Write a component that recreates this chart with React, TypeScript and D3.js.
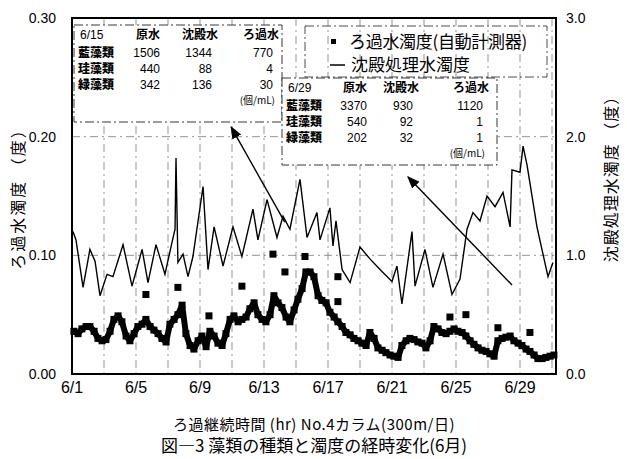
import React, { useEffect, useRef } from 'react';
import * as d3 from 'd3';

// ろ過水濁度 (left axis, 度) : [day of June, value]
const filteredTurbidity: [number, number][] = [
  [1.12, 0.036], [1.38, 0.034], [1.62, 0.038], [1.88, 0.040], [2.12, 0.040], [2.38, 0.036],
  [2.62, 0.030], [2.88, 0.028], [3.12, 0.029], [3.38, 0.036], [3.62, 0.046], [3.88, 0.049],
  [4.12, 0.044], [4.38, 0.032], [4.62, 0.028], [4.88, 0.034], [5.12, 0.040], [5.38, 0.042],
  [5.62, 0.046], [5.88, 0.040], [6.12, 0.037], [6.38, 0.034], [6.62, 0.030], [6.88, 0.027],
  [7.12, 0.042], [7.38, 0.046], [7.62, 0.050], [7.88, 0.058], [8.12, 0.034], [8.38, 0.024],
  [8.62, 0.021], [8.88, 0.028], [9.12, 0.032], [9.38, 0.023], [9.62, 0.036], [9.88, 0.032],
  [10.12, 0.026], [10.38, 0.024], [10.62, 0.034], [10.88, 0.046], [11.12, 0.049], [11.38, 0.044],
  [11.62, 0.046], [11.88, 0.048], [12.12, 0.055], [12.38, 0.060], [12.62, 0.050], [12.88, 0.046],
  [13.12, 0.044], [13.38, 0.050], [13.62, 0.066], [13.88, 0.060], [14.12, 0.056], [14.38, 0.048],
  [14.62, 0.044], [14.88, 0.054], [15.12, 0.063], [15.38, 0.072], [15.62, 0.086], [15.88, 0.086],
  [16.12, 0.082], [16.38, 0.066], [16.62, 0.062], [16.88, 0.060], [17.12, 0.052], [17.38, 0.048],
  [17.62, 0.044], [17.88, 0.040], [18.12, 0.035], [18.38, 0.033], [18.62, 0.030], [18.88, 0.028],
  [19.12, 0.026], [19.38, 0.024], [19.62, 0.035], [19.88, 0.030], [20.12, 0.022], [20.38, 0.020],
  [20.62, 0.018], [20.88, 0.016], [21.12, 0.015], [21.38, 0.014], [21.62, 0.024], [21.88, 0.028],
  [22.12, 0.030], [22.38, 0.029], [22.62, 0.027], [22.88, 0.026], [23.12, 0.022], [23.38, 0.028],
  [23.62, 0.040], [23.88, 0.038], [24.12, 0.035], [24.38, 0.034], [24.62, 0.036], [24.88, 0.038],
  [25.12, 0.036], [25.38, 0.035], [25.62, 0.032], [25.88, 0.028], [26.12, 0.025], [26.38, 0.022],
  [26.62, 0.020], [26.88, 0.019], [27.12, 0.017], [27.38, 0.015], [27.62, 0.028], [27.88, 0.030],
  [28.12, 0.031], [28.38, 0.032], [28.62, 0.028], [28.88, 0.026], [29.12, 0.024], [29.38, 0.021],
  [29.62, 0.019], [29.88, 0.016], [30.12, 0.013], [30.38, 0.013], [30.62, 0.014], [30.88, 0.015],
  [31.12, 0.016],
];

// isolated ろ過水濁度 readings away from the main band
const filteredOutliers: [number, number][] = [
  [5.62, 0.067], [7.62, 0.073], [9.56, 0.049], [11.62, 0.074], [13.56, 0.101], [14.31, 0.086],
  [15.56, 0.099], [17.62, 0.082], [17.62, 0.061], [24.62, 0.048], [25.62, 0.050], [27.62, 0.039],
  [29.62, 0.035],
];

// 沈殿処理水濁度 (right axis, 度)
const settledTurbidity: [number, number][] = [
  [1.06, 1.20], [1.25, 1.13], [1.69, 0.73], [2.12, 1.05], [2.44, 0.95], [2.75, 0.66],
  [3.19, 0.84], [3.56, 0.82], [4.19, 1.09], [4.75, 0.74], [5.38, 1.05], [5.75, 0.77],
  [6.25, 1.09], [6.81, 0.84], [7.25, 1.11], [7.44, 1.22], [7.5, 1.82], [7.62, 0.94],
  [7.94, 1.01], [8.25, 0.82], [8.56, 0.99], [9.19, 1.58], [9.5, 0.88], [9.88, 1.24],
  [10.44, 0.91], [11.06, 1.24], [11.62, 0.99], [12.31, 1.39], [12.62, 1.13], [13.19, 1.47],
  [13.81, 1.15], [14.19, 1.33], [14.62, 1.22], [15.25, 1.64], [15.69, 1.15], [16.31, 1.36],
  [16.5, 1.13], [17.12, 1.40], [17.31, 1.08], [17.5, 1.29], [17.88, 0.88], [18.38, 0.77],
  [19.0, 1.07], [19.62, 0.97], [20.25, 0.88], [21.0, 0.78], [21.31, 0.91], [21.62, 0.59],
  [22.25, 1.20], [22.44, 0.74], [23.06, 1.05], [23.56, 0.73], [24.19, 1.01], [24.75, 0.67],
  [25.25, 0.80], [25.69, 1.22], [26.06, 1.36], [26.5, 1.29], [26.94, 1.50], [27.44, 1.41],
  [27.94, 1.53], [28.38, 1.24], [28.5, 1.72], [29.0, 1.70], [29.19, 1.92], [29.44, 1.76],
  [29.62, 1.61], [30.06, 1.24], [30.75, 0.82], [31.06, 0.94],
];

const xTickDays = [1, 5, 9, 13, 17, 21, 25, 29];
const gridDays = [3, 5, 7, 9, 11, 13, 15, 17, 19, 21, 23, 25, 27, 29, 31];
const leftTicks = [0, 0.1, 0.2, 0.3];
const rightTicks = [0, 1, 2, 3];

const algaeNames = ['藍藻類', '珪藻類', '緑藻類'];
const waterTypes = ['原水', '沈殿水', 'ろ過水'];
const counts0615 = [[1506, 1344, 770], [440, 88, 4], [342, 136, 30]];
const counts0629 = [[3370, 930, 1120], [540, 92, 1], [202, 32, 1]];

const legendLabels = ['ろ過水濁度(自動計測器)', '沈殿処理水濁度'];

const JP = '"Noto Sans CJK JP", "Noto Sans", sans-serif';
const NUM = '"Liberation Sans Narrow", "Liberation Sans", Arial, sans-serif';

const App: React.FC = () => {
  const svgRef = useRef<SVGSVGElement>(null);

  useEffect(() => {
    const svg = d3.select(svgRef.current);
    svg.selectAll('*').remove();

    const left = 72, right = 556, top = 18, bottom = 374;
    const x = d3.scaleLinear().domain([1, 31.25]).range([left, right]);
    const yL = d3.scaleLinear().domain([0, 0.3]).range([bottom, top]);
    const yR = d3.scaleLinear().domain([0, 3]).range([bottom, top]);

    svg.append('rect').attr('width', 627).attr('height', 459).attr('fill', '#fff');

    // grid
    const grid = svg.append('g').attr('stroke', '#666').attr('stroke-width', 0.7)
      .attr('stroke-dasharray', '8 4 2 4');
    grid.selectAll('.gv').data(gridDays).enter().append('line')
      .attr('x1', d => x(d)).attr('x2', d => x(d)).attr('y1', top).attr('y2', bottom);
    grid.selectAll('.gh').data([0.1, 0.2]).enter().append('line')
      .attr('x1', left).attr('x2', right).attr('y1', d => yL(d)).attr('y2', d => yL(d));

    // tables
    const drawTable = (bx: number, by: number, bw: number, bh: number, date: string,
      counts: number[][], cols: number[]) => {
      const t = svg.append('g');
      t.append('rect').attr('x', bx).attr('y', by).attr('width', bw).attr('height', bh)
        .attr('fill', '#fff').attr('stroke', '#222').attr('stroke-width', 0.9)
        .attr('stroke-dasharray', '9 3 2 3');
      t.append('text').attr('x', bx + 6).attr('y', by + 14).text(date)
        .style('font-family', NUM).style('font-size', '12px');
      waterTypes.forEach((w, i) => {
        t.append('text').attr('x', cols[i] - 12).attr('y', by + 14).attr('text-anchor', 'middle')
          .text(w).style('font-family', JP).style('font-size', '12px').style('font-weight', 700);
      });
      algaeNames.forEach((a, r) => {
        const ry = by + 32 + r * 16;
        t.append('text').attr('x', bx + 4).attr('y', ry).text(a)
          .style('font-family', JP).style('font-size', '12px').style('font-weight', 900);
        counts[r].forEach((v, c) => {
          t.append('text').attr('x', cols[c]).attr('y', ry).attr('text-anchor', 'end')
            .text(v).style('font-family', NUM).style('font-size', '12px');
        });
      });
      t.append('text').attr('x', cols[2] + 2).attr('y', by + 79).attr('text-anchor', 'end')
        .text('(個/mL)').style('font-family', JP).style('font-size', '10px');
    };
    drawTable(74, 25, 208, 97, '6/15', counts0615, [160, 212, 273]);
    drawTable(282, 78, 215, 87, '6/29', counts0629, [367, 413, 483]);

    // legend
    const lg = svg.append('g');
    lg.append('rect').attr('x', 305).attr('y', 26).attr('width', 242).attr('height', 51)
      .attr('fill', 'none').attr('stroke', '#222').attr('stroke-width', 0.8)
      .attr('stroke-dasharray', '9 3 2 3');
    lg.append('rect').attr('x', 331).attr('y', 39).attr('width', 5).attr('height', 5).attr('fill', '#000');
    lg.append('text').attr('x', 349).attr('y', 48).text(legendLabels[0])
      .style('font-family', JP).style('font-size', '17px').style('letter-spacing', '-0.3px');
    lg.append('line').attr('x1', 330).attr('x2', 345).attr('y1', 65).attr('y2', 65)
      .attr('stroke', '#000').attr('stroke-width', 1.5);
    lg.append('text').attr('x', 351).attr('y', 71).text(legendLabels[1])
      .style('font-family', JP).style('font-size', '17px');

    // arrows
    svg.append('defs').append('marker').attr('id', 'ah').attr('viewBox', '0 0 10 10')
      .attr('refX', 9).attr('refY', 5).attr('markerWidth', 9).attr('markerHeight', 9)
      .attr('orient', 'auto').append('path').attr('d', 'M0,1L10,5L0,9z').attr('fill', '#000');
    const arrows: [number, number, number, number][] = [
      [14.3, 1.28, 10.95, 2.08], [28.5, 0.75, 22.0, 1.66],
    ];
    svg.selectAll('.arrow').data(arrows).enter().append('line')
      .attr('x1', d => x(d[0])).attr('y1', d => yR(d[1]))
      .attr('x2', d => x(d[2])).attr('y2', d => yR(d[3]))
      .attr('stroke', '#000').attr('stroke-width', 1.4).attr('marker-end', 'url(#ah)');

    // settled water line
    const line = d3.line<[number, number]>().x(d => x(d[0])).y(d => yR(d[1]));
    svg.append('path').datum(settledTurbidity).attr('d', line)
      .attr('fill', 'none').attr('stroke', '#000').attr('stroke-width', 1.4);

    // filtered water dots: dense hourly readings merge into a thick band
    const band = d3.line<[number, number]>().x(d => x(d[0])).y(d => yL(d[1]));
    svg.append('path').datum(filteredTurbidity).attr('d', band)
      .attr('fill', 'none').attr('stroke', '#000').attr('stroke-width', 6)
      .attr('stroke-linejoin', 'round');
    svg.selectAll('.dot').data(filteredTurbidity.concat(filteredOutliers)).enter().append('rect')
      .attr('x', d => x(d[0]) - 3.5).attr('y', d => yL(d[1]) - 3.5)
      .attr('width', 7).attr('height', 7).attr('fill', '#000');

    // frame
    svg.append('rect').attr('x', left).attr('y', top).attr('width', right - left)
      .attr('height', bottom - top).attr('fill', 'none').attr('stroke', '#000').attr('stroke-width', 2);

    // axes labels
    svg.selectAll('.lt').data(leftTicks).enter().append('text')
      .attr('x', 56).attr('y', d => yL(d) + 5).attr('text-anchor', 'end')
      .text(d => d.toFixed(2)).style('font-family', NUM).style('font-size', '14px');
    svg.selectAll('.rt').data(rightTicks).enter().append('text')
      .attr('x', 566).attr('y', d => yR(d) + 5)
      .text(d => d.toFixed(1)).style('font-family', NUM).style('font-size', '14px');
    svg.selectAll('.xt').data(xTickDays).enter().append('text')
      .attr('x', d => x(d)).attr('y', 393).attr('text-anchor', 'middle')
      .text(d => `6/${d}`).style('font-family', NUM).style('font-size', '16px');

    svg.append('text').attr('transform', `translate(24,${195}) rotate(-90)`)
      .attr('text-anchor', 'middle').text('ろ過水濁度 （度）')
      .style('font-family', JP).style('font-size', '16px').style('letter-spacing', '2px');
    svg.append('text').attr('transform', `translate(617,${175}) rotate(-90)`)
      .attr('text-anchor', 'middle').text('沈殿処理水濁度 （度）')
      .style('font-family', JP).style('font-size', '16px').style('letter-spacing', '1px');

    svg.append('text').attr('x', 314).attr('y', 430).attr('text-anchor', 'middle')
      .text('ろ過継続時間 (hr)  No.4カラム(300m/日)')
      .style('font-family', JP).style('font-size', '15px').style('letter-spacing', '0.5px');
    svg.append('text').attr('x', 314).attr('y', 452).attr('text-anchor', 'middle')
      .text('図―3  藻類の種類と濁度の経時変化(6月)')
      .style('font-family', JP).style('font-size', '17px');
  }, []);

  return (
    <svg ref={svgRef} width={627} height={459}
      style={{ position: 'absolute', left: 0, top: 0 }} />
  );
};

export default App;
